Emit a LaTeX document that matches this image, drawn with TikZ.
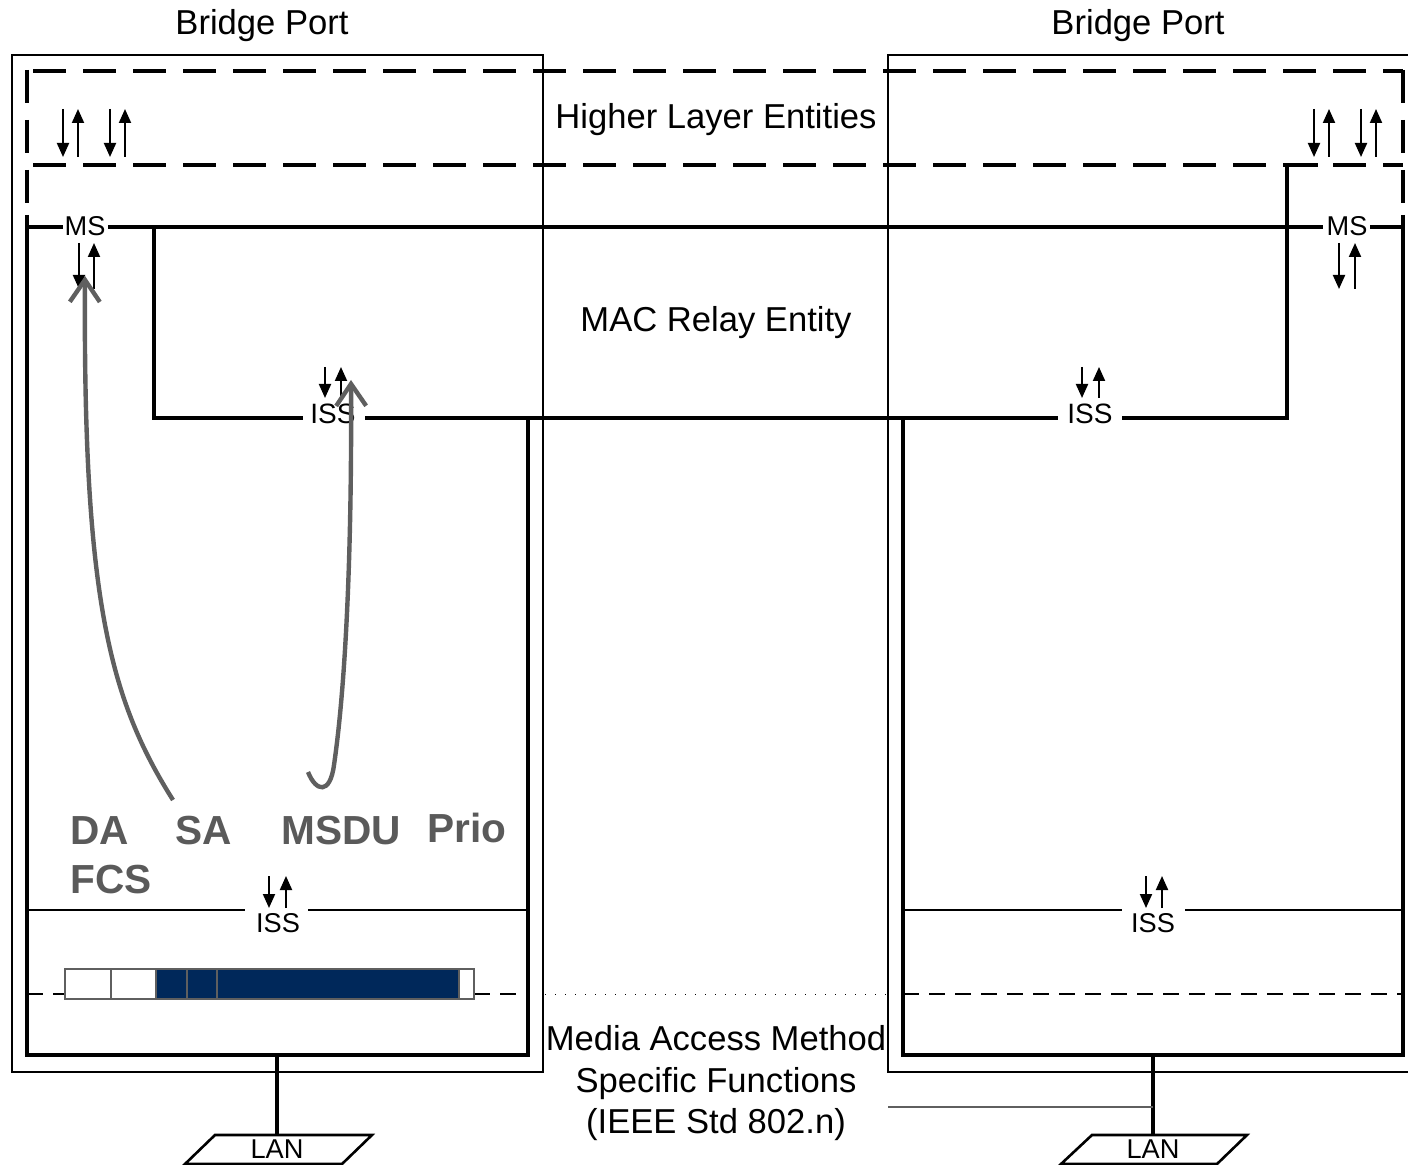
\documentclass[tikz,border=0pt]{standalone}
\usepackage{fontspec}
\setmainfont{Liberation Sans}
\usetikzlibrary{arrows.meta}
\definecolor{navy}{RGB}{0,40,90}
\definecolor{annot}{RGB}{90,90,90}
\definecolor{curvegray}{RGB}{95,95,95}
\newcommand\twoarrows[4]{\draw[dnarrow] (#1,#3) -- (#1,#4); \draw[dnarrow] (#2,#4) -- (#2,#3);}
\begin{document}
\begin{tikzpicture}[x=0.5pt,y=-0.5pt,
 thickln/.style={line width=1.6pt},
 midln/.style={line width=1.3pt},
 thinbox/.style={line width=1pt},
 hle/.style={line width=1.6pt, dash pattern=on 16.5pt off 8.5pt},
 macdash/.style={line width=1pt, dash pattern=on 8pt off 5pt},
 dotln/.style={line width=0.5pt, dash pattern=on 0.6pt off 4.4pt},
 biglab/.style={font=\fontsize{17.3}{20}\selectfont, anchor=base, inner sep=0pt},
 isslab/.style={font=\fontsize{14}{16}\selectfont, anchor=base, inner sep=0pt},
 smalllab/.style={font=\fontsize{13.6}{16}\selectfont, anchor=base, inner sep=0pt},
 fieldlab/.style={font=\fontsize{20.3}{24}\selectfont\bfseries, text=annot, anchor=base west, inner sep=0pt},
 dnarrow/.style={line width=1pt, -{Triangle[length=7pt,width=6pt]}},
 gcurve/.style={line width=2.2pt, draw=curvegray, -{Straight Barb[length=11pt,width=15pt]}},
 cellw/.style={draw=curvegray, line width=0.6pt, fill=white},
 celln/.style={draw=curvegray, line width=0.6pt, fill=navy},
]
\useasboundingbox (0,0) rectangle (1408,1165);

% outer bridge port boxes
\draw[thinbox] (12,55) rectangle (543,1072);
\draw[thinbox] (1408,55) -- (888,55) -- (888,1072) -- (1408,1072);

% higher layer dashed region
\draw[hle] (27,70) -- (27,213);
\draw[hle] (1403,70) -- (1403,213);
\draw[hle] (33,71) -- (1403,71);
\draw[hle] (33,165) -- (1403,165);

% MS line and inner boxes
\draw[thickln] (27,215) -- (27,1055) -- (528,1055) -- (528,418);
\draw[thickln] (1403,215) -- (1403,1055) -- (903,1055) -- (903,418);
\draw[thickln] (27,227) -- (63,227);
\draw[thickln] (108,227) -- (1323,227);
\draw[thickln] (1370,227) -- (1403,227);

% relay ISS line
\draw[thickln] (154,227) -- (154,418) -- (303,418);
\draw[thickln] (365,418) -- (1058,418);
\draw[thickln] (1122,418) -- (1287,418) -- (1287,165) -- (1318,165);

% lower ISS lines
\draw[midln] (27,910) -- (245,910);
\draw[midln] (308,910) -- (528,910);
\draw[midln] (903,910) -- (1122,910);
\draw[midln] (1185,910) -- (1403,910);

% media access boundary
\draw[macdash] (27,994) -- (65,994);
\draw[macdash] (474,994) -- (528,994);
\draw[dotln] (545,994) -- (888,994);
\draw[macdash] (903,994) -- (1403,994);

% frame
\draw[cellw] (65,969) rectangle (111,999);
\draw[cellw] (111,969) rectangle (156,999);
\draw[celln] (156,969) rectangle (187,999);
\draw[celln] (187,969) rectangle (217,999);
\draw[celln] (217,969) rectangle (459,999);
\draw[cellw] (459,969) rectangle (474,999);

% LANs
\draw[thickln] (277,1055) -- (277,1135);
\draw[midln] (215,1135) -- (372,1135) -- (342,1164) -- (185,1164) -- cycle;
\draw[thickln] (1153,1055) -- (1153,1135);
\draw[midln] (1092,1135) -- (1247,1135) -- (1217,1164) -- (1061,1164) -- cycle;
\draw[line width=0.6pt, draw=curvegray] (888,1107) -- (1153,1107);

% labels
\node[biglab] (bpL) at (262,35) {Bridge Port};
\node[biglab] (bpR) at (1138,35) {Bridge Port};
\node[biglab] (hle) at (716,129) {Higher Layer Entities};
\node[biglab] (mre) at (716,332) {MAC Relay Entity};
\node[biglab] (mam1) at (716,1050) {Media Access Method};
\node[biglab] (mam2) at (716,1092) {Specific Functions};
\node[biglab] (mam3) at (716,1133) {(IEEE Std 802.n)};
\node[smalllab] (msL) at (85,236) {MS};
\node[smalllab] (msR) at (1347,236) {MS};
\node[isslab] (issA) at (333,424) {ISS};
\node[isslab] (issB) at (1090,424) {ISS};
\node[smalllab] (issC) at (278,932) {ISS};
\node[smalllab] (issD) at (1153,932) {ISS};
\node[smalllab] (lanL) at (277,1158) {LAN};
\node[smalllab] (lanR) at (1153,1158) {LAN};

\node[fieldlab] (da) at (70,844) {DA};
\node[fieldlab] (sa) at (175,844) {SA};
\node[fieldlab] (msdu) at (281,844) {MSDU};
\node[fieldlab] (prio) at (427,842) {Prio};
\node[fieldlab] (fcs) at (70,893) {FCS};

% service arrows
\twoarrows{63}{78}{109}{157}
\twoarrows{110}{125}{109}{157}
\twoarrows{1314}{1329}{109}{157}
\twoarrows{1361}{1376}{109}{157}
\twoarrows{79}{94}{243}{289}
\twoarrows{1339}{1355}{243}{289}
\twoarrows{325}{341}{367}{398}
\twoarrows{1082}{1099}{367}{398}
\twoarrows{269}{286}{876}{908}
\twoarrows{1146}{1162}{876}{908}

% gray annotation curves
\draw[gcurve] (173,800) .. controls (110,700) and (83,600) .. (85,276);
\draw[gcurve] (308,772) .. controls (316,792) and (330,795) .. (334,765) .. controls (345,690) and (352,560) .. (351,380);
\end{tikzpicture}
\end{document}
